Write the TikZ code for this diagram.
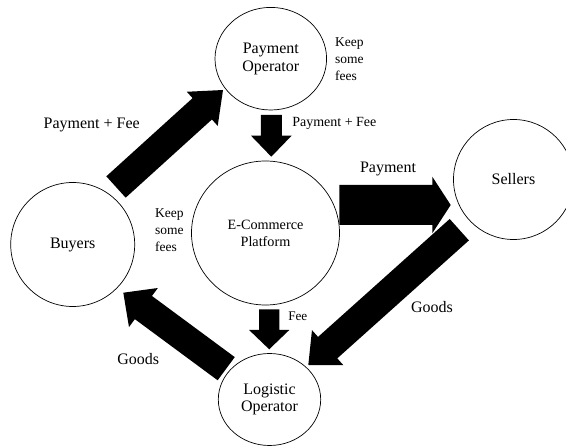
\documentclass[tikz,border=0pt]{standalone}
\usepackage{fontspec}
\setmainfont{Liberation Serif}
\usetikzlibrary{shapes.geometric,calc}
\tikzset{
  blob/.style={draw, ellipse, line width=0.7pt, inner sep=0pt, align=center,
    font=\fontsize{16}{17.7}\selectfont},
  biglabel/.style={inner sep=0pt, font=\fontsize{16}{18}\selectfont},
  smalllabel/.style={inner sep=0pt, font=\fontsize{14}{17}\selectfont},
  notelabel/.style={inner sep=0pt, align=left, font=\fontsize{13.5}{17.3}\selectfont},
}
% start, end, half shaft width, half head width, head length
\newcommand{\fatarrow}[5]{%
  \path ($(#2)!#5!(#1)$) coordinate (hb);
  \fill[black] ($(#1)!#3!90:(#2)$) -- ($(hb)!#3!90:(#2)$) -- ($(hb)!#4!90:(#2)$)
    -- (#2) -- ($(hb)!#4!-90:(#2)$) -- ($(hb)!#3!-90:(#2)$) -- ($(#1)!#3!-90:(#2)$) -- cycle;
}
\begin{document}
\begin{tikzpicture}[x=1pt,y=-1pt]
\fill[white] (0,0) rectangle (566,446);
\useasboundingbox (0,0) rectangle (566,446);

% nodes
\node[blob, minimum width=111.6pt, minimum height=102.6pt] (po) at (270.8,58.7) {Payment\\Operator};
\node[blob, minimum width=148pt, minimum height=144pt, font=\fontsize{14.2}{17}\selectfont] (ec) at (265.5,233) {E-Commerce\\Platform};
\node[blob, minimum width=124pt, minimum height=124pt] (bu) at (72.7,244.5) {Buyers};
\node[blob, minimum width=120pt, minimum height=120pt] (se) at (513.5,179.5) {Sellers};
\node[blob, minimum width=102.4pt, minimum height=92pt] (lo) at (269.5,399.5) {Logistic\\Operator};

% arrow end points
\coordinate (a1s) at (116,187);     \coordinate (a1e) at (223,90);
\coordinate (a2s) at (271.3,115);   \coordinate (a2e) at (271.3,156.7);
\coordinate (a3s) at (339.3,205);   \coordinate (a3e) at (450.7,205);
\coordinate (a4s) at (459.3,229.7); \coordinate (a4e) at (308.3,365);
\coordinate (a5s) at (226.2,368.7); \coordinate (a5e) at (123.3,292.7);
\coordinate (a6s) at (269.2,309.3); \coordinate (a6e) at (269.2,349.3);

\fatarrow{a1s}{a1e}{14.4pt}{23pt}{28pt}
\fatarrow{a2s}{a2e}{10.5pt}{20.3pt}{21pt}
\fatarrow{a3s}{a3e}{20pt}{28.3pt}{18.4pt}
\fatarrow{a4s}{a4e}{14.4pt}{23.5pt}{26pt}
\fatarrow{a5s}{a5e}{14.4pt}{24.3pt}{25pt}
\fatarrow{a6s}{a6e}{10.2pt}{20.1pt}{19.3pt}

% labels
\node[biglabel] (l1) at (91.7,125) {Payment + Fee};
\node[smalllabel] (l2) at (334.3,123.3) {Payment + Fee};
\node[notelabel, anchor=west] (l3) at (335,59) {Keep\\some\\fees};
\node[notelabel, anchor=west] (l4) at (155,230) {Keep\\some\\fees};
\node[biglabel] (l5) at (388,169) {Payment};
\node[biglabel] (l6) at (432,306.7) {Goods};
\node[biglabel] (l7) at (138.3,359.3) {Goods};
\node[inner sep=0pt, font=\fontsize{13.2}{16}\selectfont] (l8) at (297.8,316.7) {Fee};
\end{tikzpicture}
\end{document}
